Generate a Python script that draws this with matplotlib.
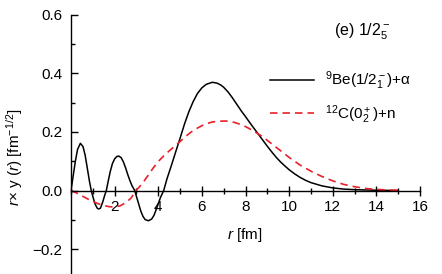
import matplotlib
matplotlib.use("Agg")
import matplotlib.pyplot as plt
from matplotlib.ticker import MultipleLocator, FixedLocator

plt.rcParams['font.family'] = ['Liberation Sans', 'DejaVu Sans']
plt.rcParams['mathtext.fontset'] = 'custom'
plt.rcParams['mathtext.rm'] = 'Liberation Sans'
plt.rcParams['mathtext.it'] = 'Liberation Sans:italic'
plt.rcParams['mathtext.default'] = 'regular'

# 9Be(1/2-_1)+alpha channel (solid black)
r_be = [0.0, 0.1, 0.2, 0.3, 0.43, 0.55, 0.65, 0.75, 0.85, 0.93, 1.0, 1.1, 1.2, 1.27,
        1.35, 1.45, 1.55, 1.62, 1.7, 1.8, 1.9, 2.0, 2.1, 2.19, 2.3, 2.4, 2.5, 2.6,
        2.7, 2.8, 2.92, 3.0, 3.1, 3.2, 3.3, 3.4, 3.55, 3.7, 3.8, 3.9, 4.0, 4.1, 4.25,
        4.4, 4.6, 4.8, 5.0, 5.2, 5.4, 5.6, 5.8, 6.0, 6.2, 6.48, 6.7, 6.88, 7.0, 7.2,
        7.4, 7.6, 7.8, 8.0, 8.2, 8.4, 8.6, 8.8, 9.0, 9.2, 9.4, 9.6, 9.8, 10.0, 10.25,
        10.5, 10.75, 11.0, 11.5, 12.0, 12.5, 13.0, 14.0, 15.0]
y_be = [0.0, 0.05, 0.10, 0.14, 0.161, 0.15, 0.12, 0.075, 0.03, 0.0, -0.02, -0.045, -0.06, -0.063,
        -0.06, -0.04, -0.015, 0.0, 0.03, 0.065, 0.092, 0.108, 0.116, 0.1175, 0.112, 0.098, 0.078, 0.055,
        0.034, 0.016, 0.0, -0.02, -0.045, -0.07, -0.088, -0.099, -0.103, -0.097, -0.085, -0.066, -0.045, -0.024, 0.0,
        0.04, 0.085, 0.132, 0.178, 0.226, 0.268, 0.303, 0.331, 0.350, 0.362, 0.369, 0.366, 0.359, 0.352, 0.336,
        0.316, 0.294, 0.272, 0.252, 0.231, 0.211, 0.191, 0.171, 0.151, 0.132, 0.114, 0.098, 0.084, 0.071, 0.057,
        0.045, 0.035, 0.027, 0.016, 0.009, 0.005, 0.003, 0.001, 0.0]

# 12C(0+_2)+n channel (dashed red)
r_c = [0.0, 0.25, 0.5, 0.75, 1.0, 1.25, 1.5, 1.75, 2.0, 2.25, 2.5, 2.75, 2.98, 3.25, 3.5,
       3.75, 4.0, 4.25, 4.5, 4.75, 5.0, 5.25, 5.5, 5.75, 6.0, 6.25, 6.5, 6.75, 7.06, 7.25,
       7.5, 7.75, 8.0, 8.25, 8.5, 8.75, 9.0, 9.5, 10.0, 10.5, 11.0, 11.5, 12.0, 12.5, 13.0,
       13.5, 14.0, 14.5, 15.0]
y_c = [0.0, -0.008, -0.018, -0.028, -0.037, -0.045, -0.051, -0.055, -0.056, -0.052, -0.042, -0.026, 0.0, 0.022, 0.048,
       0.075, 0.099, 0.118, 0.135, 0.151, 0.167, 0.184, 0.199, 0.211, 0.221, 0.229, 0.234, 0.236, 0.237, 0.236,
       0.232, 0.226, 0.218, 0.208, 0.197, 0.185, 0.171, 0.142, 0.113, 0.087, 0.066, 0.048, 0.033, 0.021, 0.013,
       0.007, 0.004, 0.002, 0.001]

label_be = r'$^{9}$Be(1/2$_1^-$)+$\alpha$'
label_c = r'$^{12}$C(0$_2^+$)+n'
panel_text = r'(e) 1/$2_5^-$'
xlabel = r'$\mathit{r}$ [fm]'
ylabel = r'$\mathit{r}$× y ($\mathit{r}$) [fm$^{-1/2}$]'
xticks = [2, 4, 6, 8, 10, 12, 14, 16]
yticks = [-0.2, 0.0, 0.2, 0.4, 0.6]
ytick_labels = ['\u22120.2', '0.0', '0.2', '0.4', '0.6']

fig = plt.figure(figsize=(4.42, 2.74), dpi=100)
ax = fig.add_axes([71/442, 1.3/274, 349/442, 258.2/274])

ax.plot(r_be, y_be, color='black', lw=1.1, label=label_be)
ax.plot(r_c, y_c, color='#e8202a', lw=1.2, ls=(0, (4.5, 3)), label=label_c)

ax.set_xlim(0, 16)
ax.set_ylim(-0.28, 0.6)

for s in ['top', 'right']:
    ax.spines[s].set_visible(False)
ax.spines['bottom'].set_position(('data', 0))
ax.spines['bottom'].set_bounds(0, 16)
ax.spines['left'].set_linewidth(1.0)
ax.spines['bottom'].set_linewidth(1.0)

ax.xaxis.set_major_locator(FixedLocator(xticks))
ax.xaxis.set_minor_locator(MultipleLocator(1))
ax.set_yticks(yticks)
ax.set_yticklabels(ytick_labels)
ax.yaxis.set_minor_locator(MultipleLocator(0.1))

ax.tick_params(axis='x', which='major', direction='inout', length=7, width=1.0,
               labelsize=11, pad=3)
ax.tick_params(axis='x', which='minor', direction='inout', length=5, width=1.0)
ax.tick_params(axis='y', which='major', direction='in', length=5, width=1.0,
               labelsize=11, pad=6)
ax.tick_params(axis='y', which='minor', direction='in', length=3, width=1.0)

fig.text(245/442, 1 - 235/274, xlabel, ha='center', va='center', fontsize=11)
fig.text(15/442, 1 - 157/274, ylabel, ha='center', va='center', fontsize=11, rotation=90)
fig.text(334/442, 1 - 32/274, panel_text, ha='left', va='center', fontsize=11.5)

leg = ax.legend(loc='upper left', bbox_to_anchor=(262/442, 1 - 62/274),
                bbox_transform=fig.transFigure, frameon=False, fontsize=11,
                handlelength=2.9, handletextpad=0.7, labelspacing=0.7, borderpad=0)

fig.savefig('out.png', dpi=100)
